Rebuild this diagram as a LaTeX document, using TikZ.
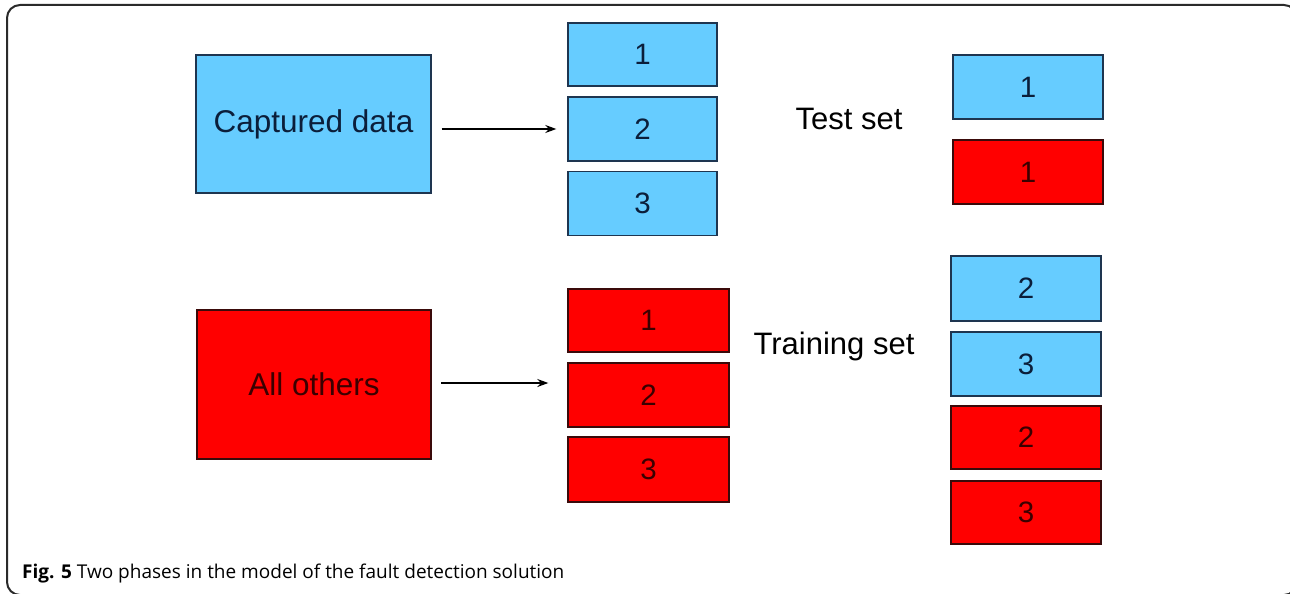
\documentclass[tikz,border=0pt]{standalone}
\usepackage{fontspec}
\setmainfont{Liberation Sans}
\newfontfamily\capfont{Open Sans}
\usetikzlibrary{arrows.meta}
\definecolor{skyfill}{HTML}{66CCFF}
\definecolor{skyedge}{HTML}{1E3550}
\definecolor{skytext}{HTML}{0B1E3A}
\definecolor{redfill}{HTML}{FF0000}
\definecolor{rededge}{HTML}{3A0A0A}
\definecolor{redtext}{HTML}{3A0000}
\definecolor{framegray}{HTML}{2A2A2A}
\tikzset{
  bluebox/.style={draw=skyedge, fill=skyfill, text=skytext, line width=1.4pt,
    inner sep=0pt, font=\fontsize{29.5}{30}\selectfont},
  redbox/.style={draw=rededge, fill=redfill, text=redtext, line width=1.4pt,
    inner sep=0pt, font=\fontsize{29.5}{30}\selectfont},
  bigfont/.style={font=\fontsize{31.5}{32}\selectfont},
  setlabel/.style={text=black, font=\fontsize{31}{32}\selectfont, inner sep=0pt},
  arr/.style={-{Stealth[length=11pt,width=8pt]}, line width=1.3pt, black}
}
\begin{document}
\begin{tikzpicture}[x=1pt,y=-1pt]
  \useasboundingbox (0,0) rectangle (1290,594);
  % outer frame
  \draw[framegray, line width=2pt, rounded corners=13pt] (7,5) rectangle (1297,595);

  % sources
  \node[bluebox, bigfont, minimum width=235pt, minimum height=138pt] (cap) at (313.5,124) {Captured data};
  \node[redbox, bigfont, minimum width=234pt, minimum height=149pt] (oth) at (314,384.5) {All others};

  % captured data split into three parts
  \node[bluebox, minimum width=149pt, minimum height=63pt] (b1) at (642.5,54.5) {1};
  \node[bluebox, minimum width=149pt, minimum height=64pt] (b2) at (642.5,129) {2};
  \node[bluebox, minimum width=149pt, minimum height=64pt] (b3) at (642.5,203.5) {3};

  % other data split into three parts
  \node[redbox, minimum width=161pt, minimum height=63pt] (r1) at (648.5,320.5) {1};
  \node[redbox, minimum width=161pt, minimum height=64pt] (r2) at (648.5,395) {2};
  \node[redbox, minimum width=161pt, minimum height=65pt] (r3) at (648.5,469.5) {3};

  % arrows
  \coordinate (a1s) at ([xshift=10pt]cap.east |- b2.west);
  \coordinate (a1e) at ([xshift=-11pt]b2.west);
  \draw[arr] (a1s) -- (a1e);
  \coordinate (a2s) at (441,383);
  \coordinate (a2e) at ([xshift=-19pt]r2.west |- a2s);
  \draw[arr] (a2s) -- (a2e);

  % test set
  \node[setlabel, anchor=base] (testlbl) at (849,129) {Test set};
  \node[bluebox, minimum width=150pt, minimum height=64pt] (t1) at (1028,87) {1};
  \node[redbox, minimum width=150pt, minimum height=64pt] (t2) at (1028,172) {1};

  % training set
  \node[setlabel, anchor=base] (trainlbl) at (834,354) {Training set};
  \node[bluebox, minimum width=150pt, minimum height=65pt] (tr1) at (1026,288.5) {2};
  \node[bluebox, minimum width=150pt, minimum height=64pt] (tr2) at (1026,364) {3};
  \node[redbox, minimum width=150pt, minimum height=63pt] (tr3) at (1026,437.5) {2};
  \node[redbox, minimum width=150pt, minimum height=63pt] (tr4) at (1026,512.5) {3};

  % caption
  \node[anchor=base west, inner sep=0pt, text=black, font=\capfont\fontsize{19}{21}\selectfont] (caption) at (22,578)
    {\textbf{Fig. 5} Two phases in the model of the fault detection solution};
\end{tikzpicture}
\end{document}
